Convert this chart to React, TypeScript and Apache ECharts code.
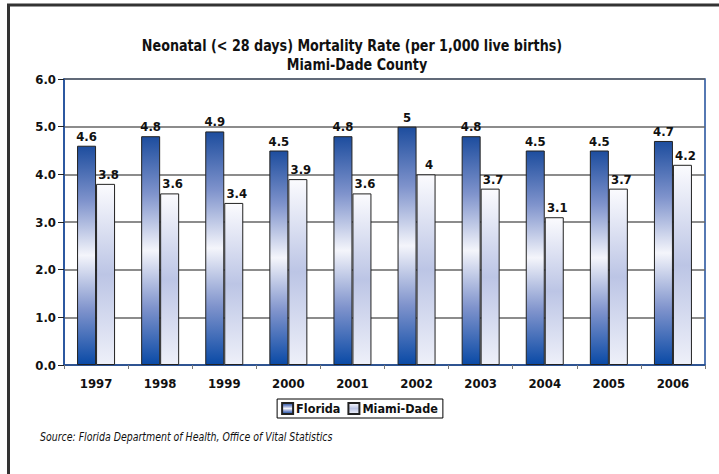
import React, { useEffect, useRef } from "react";
import * as echarts from "echarts";

const years = ["1997", "1998", "1999", "2000", "2001", "2002", "2003", "2004", "2005", "2006"];
const florida = [4.6, 4.8, 4.9, 4.5, 4.8, 5, 4.8, 4.5, 4.5, 4.7];
const miamiDade = [3.8, 3.6, 3.4, 3.9, 3.6, 4, 3.7, 3.1, 3.7, 4.2];
const titleLines = ["Neonatal (< 28 days) Mortality Rate (per 1,000 live births)", "Miami-Dade County"];
const sourceText = "Source: Florida Department of Health, Office of Vital Statistics";

const FONT = "'DejaVu Sans Condensed', 'Liberation Sans Narrow', sans-serif";

export default function App() {
  const ref = useRef<HTMLDivElement>(null);
  useEffect(() => {
    const chart = echarts.init(ref.current!, null, { renderer: "svg" });
    const flGrad = new echarts.graphic.LinearGradient(0, 0, 0, 1, [
      { offset: 0, color: "#1d4d9e" },
      { offset: 0.25, color: "#7f93cc" },
      { offset: 0.5, color: "#f4f5fb" },
      { offset: 0.75, color: "#7f93cc" },
      { offset: 1, color: "#0a4aa6" },
    ]);
    const mdGrad = new echarts.graphic.LinearGradient(0, 0, 0, 1, [
      { offset: 0, color: "#fbfbfe" },
      { offset: 0.5, color: "#bcc5e5" },
      { offset: 1, color: "#eef0f9" },
    ]);
    const labelStyle = {
      show: true,
      position: "top" as const,
      distance: 3,
      fontFamily: FONT,
      fontWeight: "bold" as const,
      fontSize: 13,
      color: "#111",
    };
    chart.setOption({
      animation: false,
      backgroundColor: "#fff",
      grid: {
        left: 64,
        right: 14,
        top: 79,
        bottom: 109,
        show: true,
        borderColor: "#1f4e9a",
        borderWidth: 1.5,
      },
      legend: {
        left: "center",
        top: 399,
        data: ["Florida", "Miami-Dade"],
        icon: "rect",
        borderColor: "#000",
        borderWidth: 1,
        padding: [3, 5, 3, 4],
        itemWidth: 11,
        itemHeight: 11,
        itemGap: 7,
        textStyle: { fontFamily: FONT, fontWeight: "bold", fontSize: 12.5, color: "#111", padding: [0, 0, 0, -2] },
      },
      xAxis: {
        type: "category",
        data: years,
        axisLine: { lineStyle: { color: "#1f4e9a", width: 1.5 } },
        axisTick: { show: true, length: 4, lineStyle: { color: "#777" } },
        axisLabel: { fontFamily: FONT, fontWeight: "bold", fontSize: 13, color: "#111", margin: 12 },
      },
      yAxis: {
        type: "value",
        min: 0,
        max: 6,
        interval: 1,
        axisLine: { show: true, lineStyle: { color: "#1f4e9a", width: 1.5 } },
        axisTick: { show: true, length: 6, lineStyle: { color: "#222" } },
        axisLabel: {
          fontFamily: FONT,
          fontWeight: "bold",
          fontSize: 13,
          color: "#111",
          margin: 8,
          formatter: (v: number) => v.toFixed(1),
        },
        splitLine: { lineStyle: { color: "#666", width: 1.5 } },
      },
      series: [
        {
          name: "Florida",
          type: "bar",
          data: florida,
          barWidth: 19,
          barGap: "0%",
          itemStyle: { color: flGrad, borderColor: "#222", borderWidth: 1 },
          label: labelStyle,
        },
        {
          name: "Miami-Dade",
          type: "bar",
          data: miamiDade,
          barWidth: 19,
          itemStyle: { color: mdGrad, borderColor: "#222", borderWidth: 1 },
          label: { ...labelStyle, offset: [3, 0] },
        },
      ],
      graphic: [
        { type: "line", shape: { x1: 7, y1: 5, x2: 719, y2: 5 }, style: { stroke: "#333", lineWidth: 3 } },
        { type: "line", shape: { x1: 8.5, y1: 4, x2: 8.5, y2: 474 }, style: { stroke: "#333", lineWidth: 3 } },
        {
          type: "text",
          x: 352,
          y: 46,
          scaleX: 0.885,
          style: {
            text: titleLines[0],
            textAlign: "center",
            textVerticalAlign: "middle",
            fontFamily: FONT,
            fontWeight: "bold",
            fontSize: 16,
            fill: "#111",
          },
        },
        {
          type: "text",
          x: 357,
          y: 65,
          scaleX: 0.885,
          style: {
            text: titleLines[1],
            textAlign: "center",
            textVerticalAlign: "middle",
            fontFamily: FONT,
            fontWeight: "bold",
            fontSize: 16,
            fill: "#111",
          },
        },
        {
          type: "text",
          x: 40,
          y: 437,
          scaleX: 0.91,
          style: {
            text: sourceText,
            textAlign: "left",
            textVerticalAlign: "middle",
            fontFamily: FONT,
            fontStyle: "italic",
            fontSize: 11.5,
            fill: "#111",
          },
        },
      ],
    });
    return () => chart.dispose();
  }, []);
  return <div ref={ref} style={{ position: "absolute", left: 0, top: 0, width: 719, height: 474 }} />;
}
